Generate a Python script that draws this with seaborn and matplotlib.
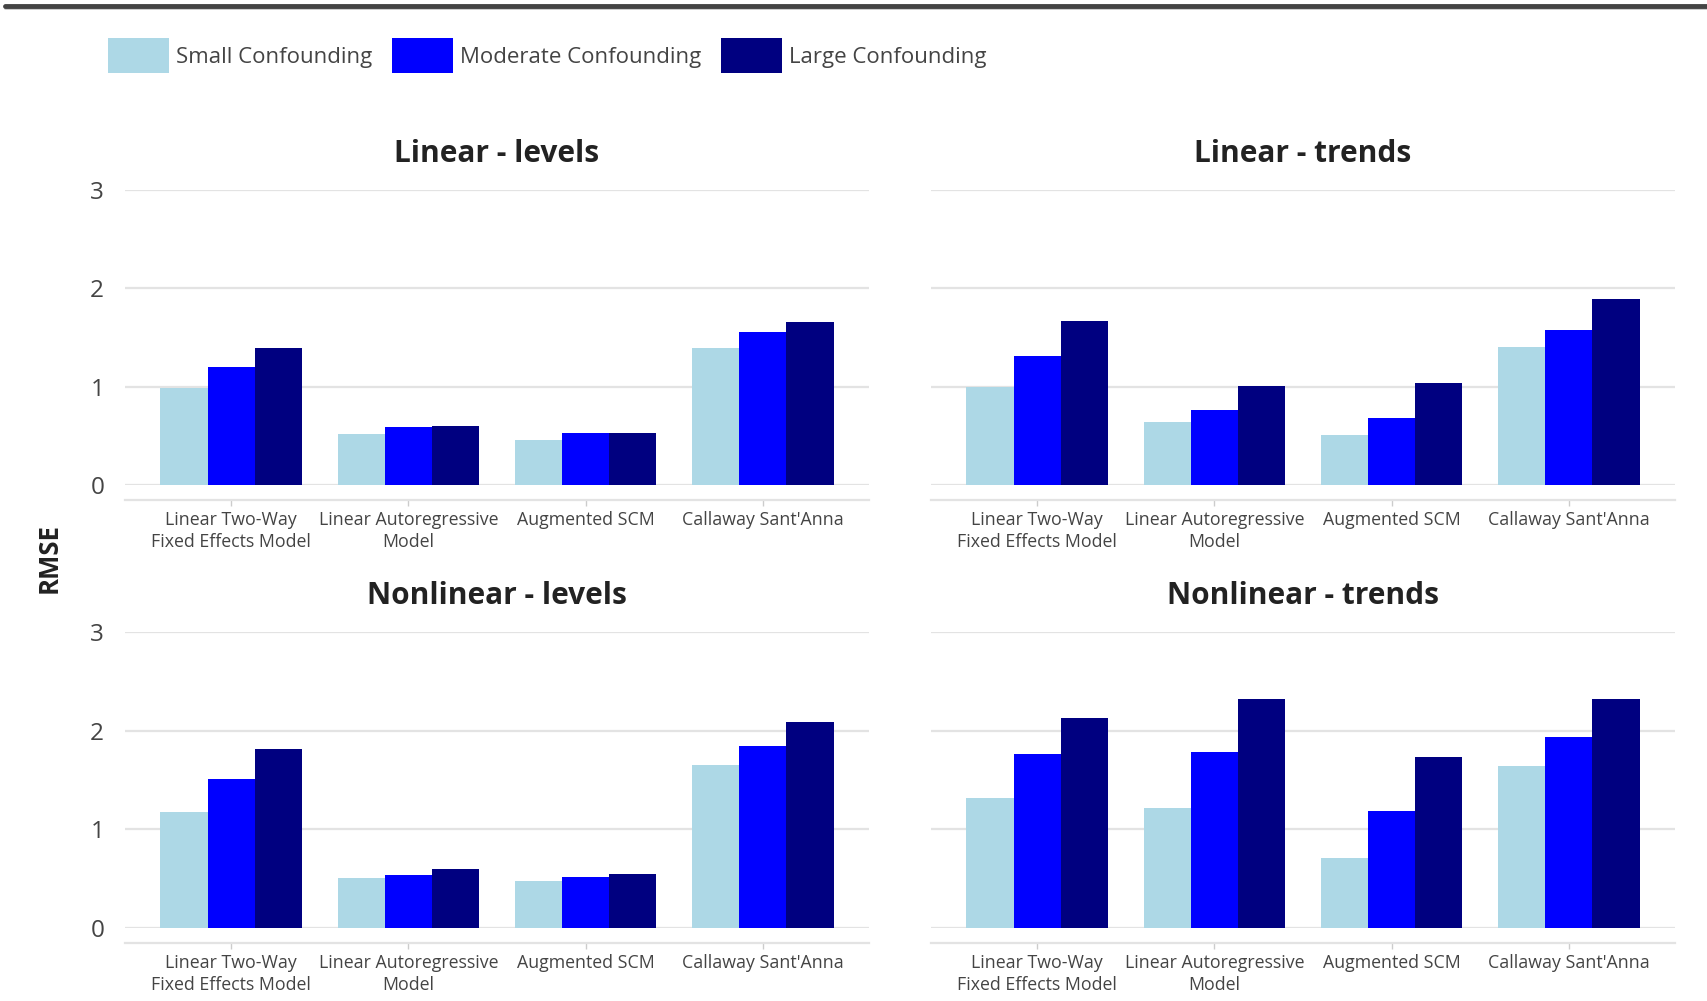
import numpy as np
import pandas as pd
import matplotlib
matplotlib.use("Agg")
import matplotlib.pyplot as plt
from matplotlib.lines import Line2D
from matplotlib.patches import Patch
import seaborn as sns

# categories
methods = ["Linear Two-Way\nFixed Effects Model", "Linear Autoregressive\nModel",
           "Augmented SCM", "Callaway Sant'Anna"]
confounding = ["Small Confounding", "Moderate Confounding", "Large Confounding"]
colors = ["#add8e6", "#0000ff", "#000080"]

# RMSE values, one list per confounding level
linear_levels_small = [0.99, 0.52, 0.46, 1.39]
linear_levels_moderate = [1.20, 0.59, 0.53, 1.56]
linear_levels_large = [1.39, 0.60, 0.53, 1.66]

linear_trends_small = [1.00, 0.64, 0.51, 1.40]
linear_trends_moderate = [1.31, 0.76, 0.68, 1.58]
linear_trends_large = [1.67, 1.01, 1.04, 1.89]

nonlinear_levels_small = [1.18, 0.51, 0.48, 1.65]
nonlinear_levels_moderate = [1.51, 0.54, 0.52, 1.84]
nonlinear_levels_large = [1.81, 0.60, 0.55, 2.09]

nonlinear_trends_small = [1.32, 1.22, 0.71, 1.64]
nonlinear_trends_moderate = [1.76, 1.78, 1.19, 1.94]
nonlinear_trends_large = [2.13, 2.32, 1.73, 2.32]

panel_titles = ["Linear - levels", "Linear - trends", "Nonlinear - levels", "Nonlinear - trends"]
panel_values = [
    [linear_levels_small, linear_levels_moderate, linear_levels_large],
    [linear_trends_small, linear_trends_moderate, linear_trends_large],
    [nonlinear_levels_small, nonlinear_levels_moderate, nonlinear_levels_large],
    [nonlinear_trends_small, nonlinear_trends_moderate, nonlinear_trends_large],
]
y_ticks = [0, 1, 2, 3]

sns.set_theme(style="white")
plt.rcParams['font.family'] = ['Open Sans', 'DejaVu Sans']
text_col = "#444444"
grid_col = "#e3e3e3"

fig = plt.figure(figsize=(17.08, 10.01), dpi=100)

# axes boxes in figure fractions: left, bottom, width, height
boxes = [
    [0.0732, 0.5155, 0.4356, 0.2947],
    [0.5451, 0.5155, 0.4356, 0.2947],
    [0.0732, 0.0729, 0.4356, 0.2957],
    [0.5451, 0.0729, 0.4356, 0.2957],
]

for i in range(4):
    ax = fig.add_axes(boxes[i])
    rows = []
    for c, vals in zip(confounding, panel_values[i]):
        for m, v in zip(methods, vals):
            rows.append({"method": m, "confounding": c, "rmse": v})
    df = pd.DataFrame(rows)
    sns.barplot(data=df, x="method", y="rmse", hue="confounding",
                order=methods, hue_order=confounding, palette=colors,
                saturation=1, width=0.8, linewidth=0, legend=False, ax=ax)

    ax.set_xlim(-0.6, 3.6)
    ax.set_ylim(0, 3)
    ax.set_yticks(y_ticks)
    ax.grid(axis="y", color=grid_col, linewidth=1.6)
    ax.set_axisbelow(True)
    for s in ["top", "right", "left"]:
        ax.spines[s].set_visible(False)
    ax.spines["bottom"].set_position(("outward", 11))
    ax.spines["bottom"].set_color(grid_col)
    ax.spines["bottom"].set_linewidth(1.6)
    ax.tick_params(axis="x", bottom=True, length=4, width=1, color="#cccccc",
                   pad=4, labelsize=12.8, labelcolor=text_col)
    ax.tick_params(axis="y", left=False, pad=9, labelsize=17.5, labelcolor=text_col)
    if i % 2 == 1:
        ax.tick_params(axis="y", labelleft=False)
    ax.set_xlabel("")
    ax.set_ylabel("")
    for lab in ax.get_xticklabels():
        lab.set_linespacing(1.25)
    ax.set_title(panel_titles[i], fontsize=21.5, fontweight="bold", color="#222222", pad=20)

fig.text(0.0287, 0.4426, "RMSE", rotation=90, ha="center", va="center",
         fontsize=18.5, fontweight="bold", color="#222222")

handles = [Patch(facecolor=c, edgecolor="none") for c in colors]
fig.legend(handles, confounding, loc="center left", bbox_to_anchor=(0.0515, 0.9445),
           ncol=3, frameon=False, fontsize=16, handlelength=2.75, handleheight=2.0,
           handletextpad=0.3, columnspacing=0.9, labelcolor=text_col)

# dark rule across the top of the figure
fig.add_artist(Line2D([0.003, 1.0], [0.9925, 0.9925], color="#c8c8c8", linewidth=2,
                      transform=fig.transFigure))
fig.add_artist(Line2D([0.003, 1.0], [0.9945, 0.9945], color="#444444", linewidth=3.5,
                      transform=fig.transFigure))

fig.savefig("out.png", dpi=100)
